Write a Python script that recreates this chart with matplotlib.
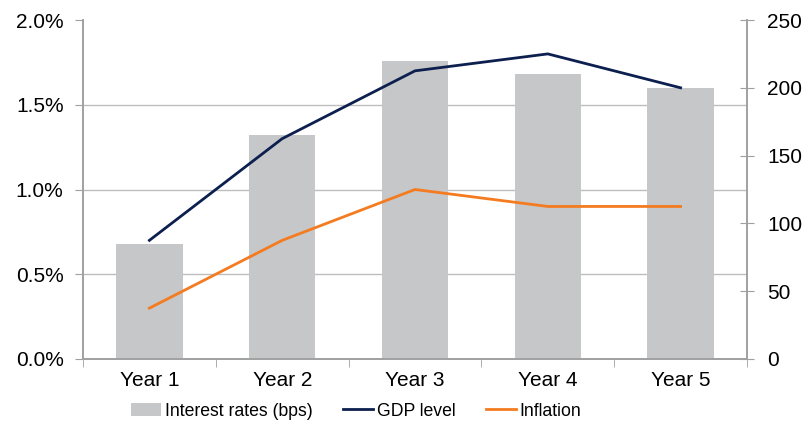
import numpy as np
import matplotlib
matplotlib.use('Agg')
from matplotlib import pyplot as plt
from matplotlib.ticker import FuncFormatter

plt.rcParams['font.family'] = ['Liberation Sans', 'DejaVu Sans']
plt.rcParams['font.size'] = 15

# data
years = ['Year 1', 'Year 2', 'Year 3', 'Year 4', 'Year 5']
rates_bps = [85, 165, 220, 210, 200]
gdp = [0.70, 1.30, 1.70, 1.80, 1.60]
inflation = [0.30, 0.70, 1.00, 0.90, 0.90]
pct_ticks = [0.0, 0.5, 1.0, 1.5, 2.0]
bps_ticks = [0, 50, 100, 150, 200, 250]

BAR_C = '#c6c7c9'
GDP_C = '#0c1f4f'
INF_C = '#f47b20'
AXIS_C = '#a0a0a0'
GRID_C = '#bdbdbd'

fig = plt.figure(figsize=(8.06, 4.21), dpi=100)
ax = fig.add_axes([83 / 806, 1 - 359 / 421, (747 - 83) / 806, (359 - 20) / 421])
ax2 = ax.twinx()

x = np.arange(len(years))

# bars on the bps axis (drawn on the right)
ax.bar(x, rates_bps, width=0.5, color=BAR_C, label='Interest rates (bps)', zorder=2)
ax.set_ylim(0, 250)
ax.set_xlim(-0.5, len(years) - 0.5)
ax.yaxis.tick_right()
ax.yaxis.set_label_position('right')
ax.set_yticks(bps_ticks)
ax.tick_params(axis='y', direction='inout', length=10, color=AXIS_C, pad=9.5)

# gridlines follow the % axis, kept behind the bars
ax.set_yticks([p * 250 / 2.0 for p in pct_ticks[1:]], minor=True)
ax.tick_params(axis='y', which='minor', length=0)
ax.grid(which='minor', axis='y', color=GRID_C, linewidth=1)
ax.set_axisbelow(True)

# x axis: labels centered, ticks at category boundaries
ax.set_xticks(x)
ax.set_xticklabels(years)
ax.tick_params(axis='x', which='major', length=0, pad=8.5)
ax.set_xticks(np.arange(-0.5, len(years)), minor=True)
ax.tick_params(axis='x', which='minor', length=6, color=AXIS_C, direction='out')

# lines on the % axis (drawn on the left)
ax2.plot(x, gdp, color=GDP_C, linewidth=2, label='GDP level')
ax2.plot(x, inflation, color=INF_C, linewidth=2, label='Inflation')
ax2.set_ylim(0, 2.0)
ax2.yaxis.tick_left()
ax2.yaxis.set_label_position('left')
ax2.set_yticks(pct_ticks)
ax2.yaxis.set_major_formatter(FuncFormatter(lambda v, p: f'{v:.1f}%'))
ax2.tick_params(axis='y', direction='out', length=6, color=AXIS_C, pad=8)

for a in (ax, ax2):
    a.spines['top'].set_visible(False)
    for s in ('left', 'right', 'bottom'):
        a.spines[s].set_color(AXIS_C)
        a.spines[s].set_linewidth(1.2)

h1, l1 = ax.get_legend_handles_labels()
h2, l2 = ax2.get_legend_handles_labels()
fig.legend(h1 + h2, l1 + l2, loc='center left', bbox_to_anchor=(131 / 806, 1 - 411 / 421),
           ncol=3, frameon=False, handlelength=1.7, handletextpad=0.2,
           columnspacing=1.75, borderpad=0, borderaxespad=0, fontsize=12.7)

fig.savefig('out.png', dpi=100, facecolor='w')
